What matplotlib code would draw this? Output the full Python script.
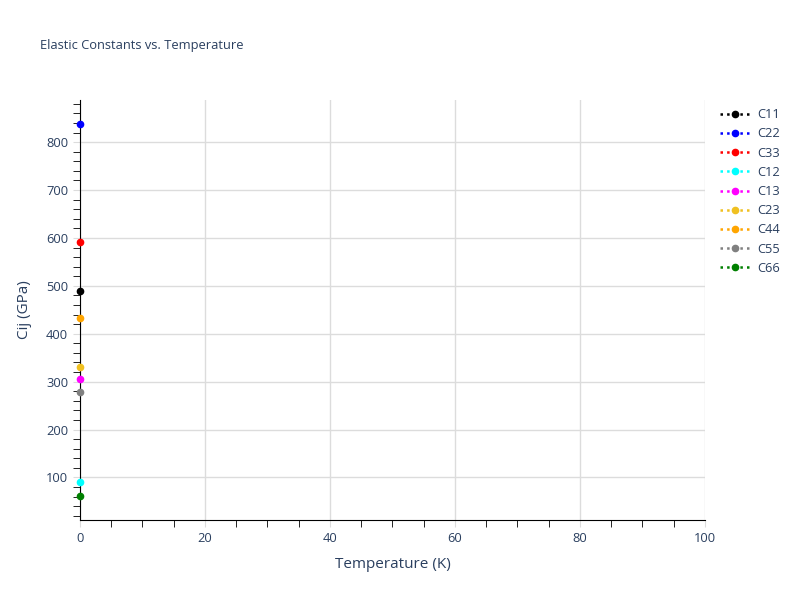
import matplotlib.pyplot as plt
from matplotlib.ticker import MultipleLocator

plt.rcParams["font.family"] = ["Open Sans", "DejaVu Sans"]

# data: elastic constants at T = 0 K
names = ["C11", "C22", "C33", "C12", "C13", "C23", "C44", "C55", "C66"]
temps = [0]
c11 = [489]
c22 = [837]
c33 = [592]
c12 = [91]
c13 = [306]
c23 = [331]
c44 = [433]
c55 = [278]
c66 = [62]
colors = ["black", "blue", "red", "cyan", "magenta", "#f0c020", "orange", "gray", "green"]

series = [c11, c22, c33, c12, c13, c23, c44, c55, c66]
txt = "#2a3f5f"

fig = plt.figure(figsize=(8, 6), dpi=100)
ax = fig.add_axes([0.1, 0.1333, 0.781, 0.7])

for nm, vals, col in zip(names, series, colors):
    ax.plot(temps, vals, linestyle=":", color=col, marker="o", markersize=4.5,
            linewidth=1.8, label=nm, clip_on=False, zorder=3)

ax.set_xlim(0, 100)
ax.set_ylim(11, 888)
ax.xaxis.set_major_locator(MultipleLocator(20))
ax.xaxis.set_minor_locator(MultipleLocator(5))
ax.yaxis.set_major_locator(MultipleLocator(100))
ax.yaxis.set_minor_locator(MultipleLocator(20))
ax.set_yticks([100, 200, 300, 400, 500, 600, 700, 800])

ax.grid(True, which="major", color="#dcdcdc", linewidth=1)
ax.set_axisbelow(True)
for s in ["top", "right"]:
    ax.spines[s].set_visible(False)
ax.spines["left"].set_color("black")
ax.spines["bottom"].set_color("black")

ax.tick_params(which="major", length=5, color="#dcdcdc", labelcolor=txt, labelsize=9.3)
ax.tick_params(which="minor", length=5, color="black")

ax.set_xlabel("Temperature (K)", color=txt, fontsize=11, labelpad=9)
ax.set_ylabel("Cij (GPa)", color=txt, fontsize=11, labelpad=10)
fig.text(0.05, 0.925, "Elastic Constants vs. Temperature", color=txt, fontsize=9.3,
         va="center")

leg = ax.legend(loc="upper left", bbox_to_anchor=(1.005, 1.008), frameon=False,
                fontsize=9.3, labelcolor=txt, handlelength=2.4, labelspacing=0.48,
                handletextpad=0.5)

fig.savefig("out.png", dpi=100)
